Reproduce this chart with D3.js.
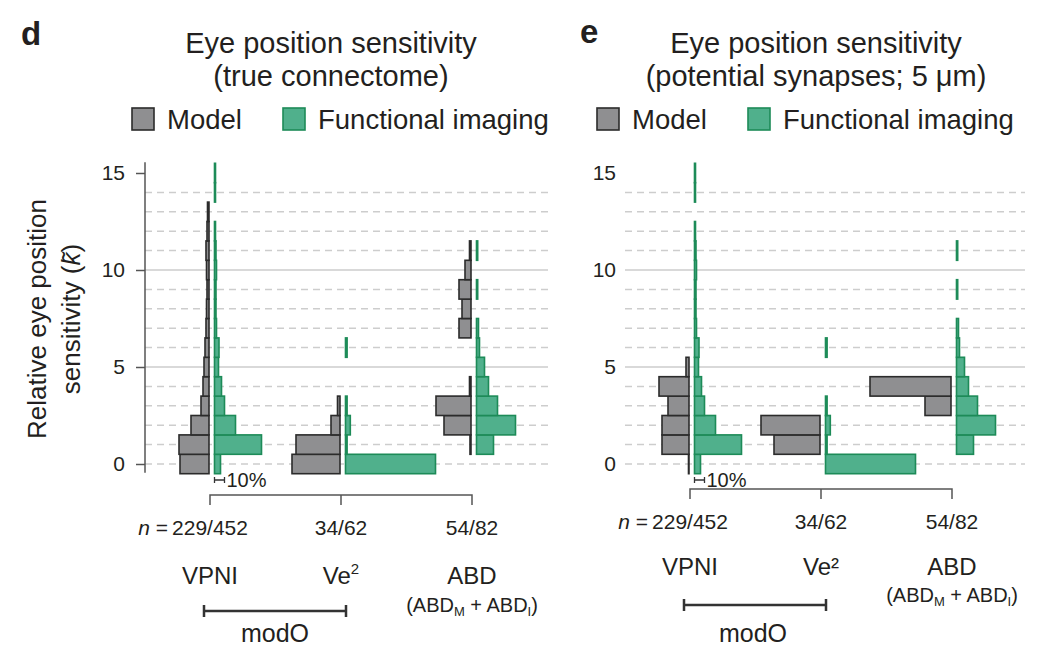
<!DOCTYPE html>
<html>
<head>
<meta charset="UTF-8">
<style>
  body { margin: 0; background: #fff; }
  svg { display: block; font-family: "Liberation Sans", Arial, sans-serif; }
  text { fill: #231f20; }
  .grid { stroke: #cdcdcd; stroke-width: 1.5px; }
  .grid.dash { stroke-dasharray: 7,5; }
  .model { fill: #8f8f91; stroke: #2b2b2b; stroke-width: 1.6px; }
  .imaging { fill: #50b08c; stroke: #1d8b58; stroke-width: 1.6px; }
</style>
</head>
<body>
<svg></svg>
<script src="https://d3js.org/d3.v7.min.js"></script>
<script>

// bins of k, one value per bin (percent of cells)
const kBins = [0, 1, 2, 3, 4, 5, 6, 7, 8, 9, 10, 11, 12, 13, 14, 15];
const categories = ["VPNI", "Ve2", "ABD"];
const nLabels = ["229/452", "34/62", "54/82"];
const yTicks = [0, 5, 10, 15];
const gridValues = [0, 1, 2, 3, 4, 5, 6, 7, 8, 9, 10, 11, 12, 13, 14];

// functional imaging (same in both panels)
const vpniImaging = [6, 47, 21, 10, 7, 4, 4.5, 2, 1.5, 1.5, 2, 1.5, 1, 0, 1, 1];
const ve2Imaging  = [90, 1.6, 4.8, 1.6, 0, 0, 1.6, 0, 0, 0, 0, 0, 0, 0, 0, 0];
const abdImaging  = [0, 17, 39, 21, 12, 8, 3, 2, 0, 1.2, 0, 1.2, 0, 0, 0, 0];

// model, true connectome (panel d)
const vpniModelTrue = [29, 30, 18, 8, 6, 5, 4, 3, 2.5, 2, 2.5, 3, 2, 1.5, 0, 0];
const ve2ModelTrue  = [48, 44, 9, 2.5, 0, 0, 0, 0, 0, 0, 0, 0, 0, 0, 0, 0];
const abdModelTrue  = [0, 1, 27, 35, 1.5, 0, 0, 12, 9, 12, 6, 1.5, 0, 0, 0, 0];

// model, potential synapses 5 um (panel e)
const vpniModelPot = [0.5, 27, 27, 21, 30, 3, 0, 0, 0, 0, 0, 0, 0, 0, 0, 0];
const ve2ModelPot  = [0, 46, 59, 0, 0, 0, 0, 0, 0, 0, 0, 0, 0, 0, 0, 0];
const abdModelPot  = [0, 0, 0, 26, 81, 0, 0, 0, 0, 0, 0, 0, 0, 0, 0, 0];

let width = 1043, height = 671;
let svg = d3.select("svg").attr("width", width).attr("height", height);

let y = d3.scaleLinear().domain([0, 15]).range([464, 173]);
let pct = d3.scaleLinear().domain([0, 100]).range([0, 100]);

let panels = [
  { letter: "d", lx: 21, ly: 45, title: ["Eye position sensitivity", "(true connectome)"], tx: 331,
    legX: 132, gridX: [145, 548], catRange: [210, 472],
    model: [vpniModelTrue, ve2ModelTrue, abdModelTrue],
    brY: 495, nY: 535, catY: 584, subY: 612, modY: 611, modX: [204, 346], modTx: 275, supVe: true },
  { letter: "e", lx: 580, ly: 43, title: ["Eye position sensitivity", "(potential synapses; 5 \u03bcm)"], tx: 816,
    legX: 597, gridX: [625, 1025], catRange: [690, 952],
    model: [vpniModelPot, ve2ModelPot, abdModelPot],
    brY: 489, nY: 529, catY: 575, subY: 602, modY: 605, modX: [684, 826], modTx: 753, supVe: false }
];
let imaging = [vpniImaging, ve2Imaging, abdImaging];

panels.forEach((p, pi) => {
  let g = svg.append("g");
  let x = d3.scalePoint().domain(categories).range(p.catRange);

  // panel letter + title
  g.append("text").attr("x", p.lx).attr("y", p.ly)
    .style("font-size", "33px").style("font-weight", "bold").text(p.letter);
  p.title.forEach((t, i) => {
    g.append("text").attr("x", p.tx).attr("y", 53 + i * 33)
      .attr("text-anchor", "middle").style("font-size", "29px").text(t);
  });

  // legend
  let leg = [["Model", "model"], ["Functional imaging", "imaging"]];
  leg.forEach((l, i) => {
    let lx = p.legX + i * 151;
    g.append("rect").attr("class", l[1]).attr("x", lx).attr("y", 108)
      .attr("width", 22).attr("height", 22);
    g.append("text").attr("x", lx + 35).attr("y", 129)
      .style("font-size", "27.5px").text(l[0]);
  });

  // gridlines
  g.selectAll("line.grid").data(gridValues).enter().append("line")
    .attr("class", d => d % 5 === 0 && d > 0 ? "grid" : "grid dash")
    .attr("x1", p.gridX[0]).attr("x2", p.gridX[1])
    .attr("y1", d => y(d)).attr("y2", d => y(d));

  // y axis
  if (pi === 0) {
    let ax = g.append("g").attr("transform", "translate(145,0)")
      .call(d3.axisLeft(y).tickValues(yTicks).tickSize(9).tickPadding(11));
    ax.select(".domain").remove();
    ax.selectAll("line").attr("stroke", "#555").attr("stroke-width", 1.5);
    ax.selectAll("text").style("font-size", "21px").style("font-family", "Liberation Sans, Arial, sans-serif").attr("fill", "#231f20");
    g.append("line").attr("x1", 145).attr("x2", 145).attr("y1", y(15.55)).attr("y2", y(-0.45))
      .attr("stroke", "#555").attr("stroke-width", 1.5);

    let yl = g.append("text").attr("transform", "translate(46,319) rotate(-90)")
      .attr("text-anchor", "middle").style("font-size", "26px");
    yl.append("tspan").attr("x", 0).attr("y", 0).text("Relative eye position");
    yl.append("tspan").attr("x", 0).attr("y", 34).text("sensitivity (");
    yl.append("tspan").style("font-style", "italic").text("k\u0303");
    yl.append("tspan").text(")");
  } else {
    let ax = g.append("g").attr("transform", "translate(616,0)")
      .call(d3.axisLeft(y).tickValues(yTicks).tickSize(0).tickPadding(0));
    ax.select(".domain").remove();
    ax.selectAll("text").style("font-size", "21px").style("font-family", "Liberation Sans, Arial, sans-serif").attr("fill", "#231f20");
  }

  // histograms
  categories.forEach((c, ci) => {
    let cx = x(c);
    g.append("g").selectAll("rect")
      .data(kBins.filter(k => p.model[ci][k] > 0)).enter().append("rect")
      .attr("class", "model")
      .attr("x", k => cx - 1 - pct(p.model[ci][k]))
      .attr("width", k => pct(p.model[ci][k]))
      .attr("y", k => y(k + 0.5))
      .attr("height", k => y(k - 0.5) - y(k + 0.5));
    g.append("g").selectAll("rect")
      .data(kBins.filter(k => imaging[ci][k] > 0)).enter().append("rect")
      .attr("class", "imaging")
      .attr("x", cx + 4.5)
      .attr("width", k => pct(imaging[ci][k]))
      .attr("y", k => y(k + 0.5))
      .attr("height", k => y(k - 0.5) - y(k + 0.5));
  });

  // 10% scale bar
  let sx = x("VPNI") + 4.5;
  g.append("path")
    .attr("d", `M${sx},${477}V${483}M${sx},480H${sx + pct(10)}M${sx + pct(10)},477V483`)
    .attr("stroke", "#333").attr("stroke-width", 1.3).attr("fill", "none");
  g.append("text").attr("x", sx + pct(10) + 2).attr("y", 487)
    .style("font-size", "20px").text("10%");

  // bracket above n labels
  let bx = categories.map(c => x(c));
  g.append("path")
    .attr("d", `M${bx[0]},${p.brY + 10}V${p.brY}H${bx[2]}V${p.brY + 10}M${bx[1]},${p.brY}V${p.brY + 10}`)
    .attr("stroke", "#555").attr("stroke-width", 1.5).attr("fill", "none");

  // n labels
  nLabels.forEach((n, i) => {
    let t = g.append("text").attr("x", bx[i]).attr("y", p.nY)
      .attr("text-anchor", "middle").style("font-size", "21px").text(n);
    if (i === 0) {
      let w = t.node().getComputedTextLength();
      let nt = g.append("text").attr("x", bx[i] - w / 2 - 4).attr("y", p.nY)
        .attr("text-anchor", "end").style("font-size", "21px");
      nt.append("tspan").style("font-style", "italic").text("n");
      nt.append("tspan").text(" =");
    }
  });

  // category labels
  g.append("text").attr("x", bx[0]).attr("y", p.catY).attr("text-anchor", "middle")
    .style("font-size", "24px").text("VPNI");
  let ve = g.append("text").attr("x", bx[1]).attr("y", p.catY).attr("text-anchor", "middle")
    .style("font-size", "24px");
  if (p.supVe) {
    ve.append("tspan").text("Ve");
    ve.append("tspan").attr("dy", -10).style("font-size", "15px").text("2");
  } else {
    ve.text("Ve\u00b2");
  }
  g.append("text").attr("x", bx[2]).attr("y", p.catY).attr("text-anchor", "middle")
    .style("font-size", "24px").text("ABD");
  let sub = g.append("text").attr("x", bx[2]).attr("y", p.subY).attr("text-anchor", "middle")
    .style("font-size", "20px");
  sub.append("tspan").text("(ABD");
  sub.append("tspan").attr("dy", 4).style("font-size", "13px").text("M");
  sub.append("tspan").attr("dy", -4).text(" + ABD");
  sub.append("tspan").attr("dy", 4).style("font-size", "13px").text("I");
  sub.append("tspan").attr("dy", -4).text(")");

  // modO bar
  g.append("path")
    .attr("d", `M${p.modX[0]},${p.modY - 6}V${p.modY + 6}M${p.modX[0]},${p.modY}H${p.modX[1]}M${p.modX[1]},${p.modY - 6}V${p.modY + 6}`)
    .attr("stroke", "#333").attr("stroke-width", 2.5).attr("fill", "none");
  g.append("text").attr("x", p.modTx).attr("y", 642).attr("text-anchor", "middle")
    .style("font-size", "25px").text("modO");
});

</script>
</body>
</html>
